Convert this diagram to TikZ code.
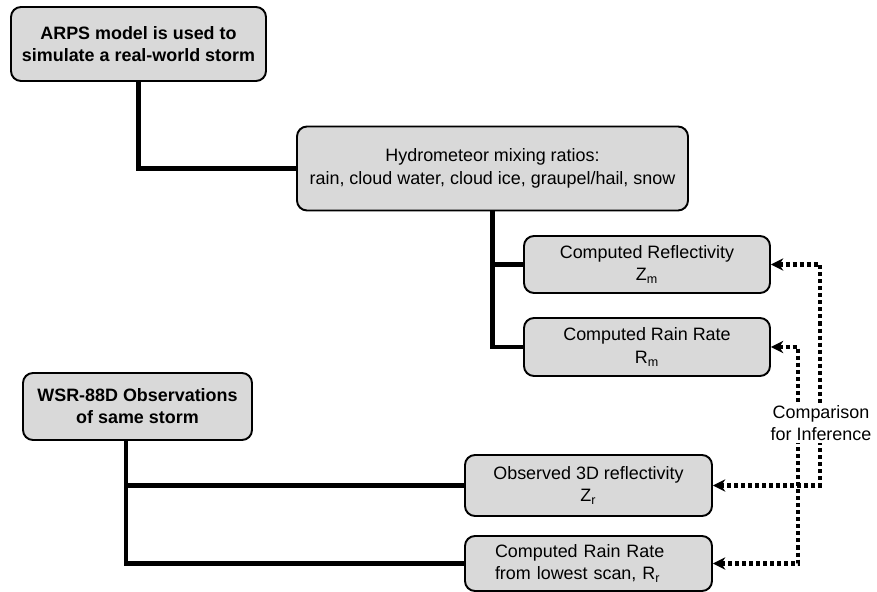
\documentclass[tikz,border=0pt]{standalone}
\usepackage{fontspec}
\setmainfont{Liberation Sans}
\usepackage{tikz}
\usetikzlibrary{arrows.meta}

\begin{document}
\begin{tikzpicture}[
    font=\fontsize{10.2}{12.8}\selectfont,
    box/.style={rectangle,rounded corners=0.2cm,draw,line width=1.1pt,fill=gray!30,inner sep=0pt,align=center},
    trunk/.style={line width=2.5pt},
    compare/.style={line width=2.3pt,dash pattern=on 2.3pt off 1.7pt,{Stealth[length=7pt,width=7pt]}-{Stealth[length=7pt,width=7pt]}}
  ]
    \useasboundingbox (0,0) rectangle (17.54,11.84);

    \node[box,minimum width=5.1cm,minimum height=1.48cm,font=\fontsize{10.2}{12.6}\selectfont\bfseries] (arps) at (2.77,10.96) {ARPS model is used to\\simulate a real-world storm};
    \node[box,minimum width=7.82cm,minimum height=1.68cm] (hydro) at (9.85,8.47) {Hydrometeor mixing ratios:\\rain, cloud water, cloud ice, graupel/hail, snow};
    \node[box,minimum width=4.92cm,minimum height=1.14cm] (zm) at (12.94,6.55) {Computed Reflectivity\\Z\textsubscript{m}};
    \node[box,minimum width=4.92cm,minimum height=1.16cm] (rm) at (12.94,4.9) {Computed Rain Rate\\R\textsubscript{m}};

    \node[box,minimum width=4.58cm,minimum height=1.34cm,font=\fontsize{10.2}{12.6}\selectfont\bfseries] (wsr) at (2.75,3.71) {WSR-88D Observations\\of same storm};
    \node[box,minimum width=4.94cm,minimum height=1.22cm] (zr) at (11.77,2.13) {Observed 3D reflectivity\\Z\textsubscript{r}};
    \node[box,minimum width=4.94cm,minimum height=1.1cm,align=left,text width=3.74cm,inner xsep=0.6cm] (rr) at (11.77,0.57) {Computed Rain Rate\\from lowest scan, R\textsubscript{r}};

    \draw[trunk] (arps.south) |- (hydro.west);
    \draw[trunk] (hydro.south) |- (zm.west);
    \draw[trunk] (hydro.south) |- (rm.west);
    \draw[trunk] ([xshift=-0.23cm]wsr.south) |- (zr.west);
    \draw[trunk] ([xshift=-0.23cm]wsr.south) |- (rr.west);

    \draw[compare] (zm.east) -- ++(0.98,0) |- (zr.east);
    \draw[compare] (rm.east) -- ++(0.54,0) |- (rr.east);

    \node[fill=white,inner sep=1pt,align=center] (cmp) at (16.42,3.38) {Comparison\\for Inference};
\end{tikzpicture}
\end{document}
